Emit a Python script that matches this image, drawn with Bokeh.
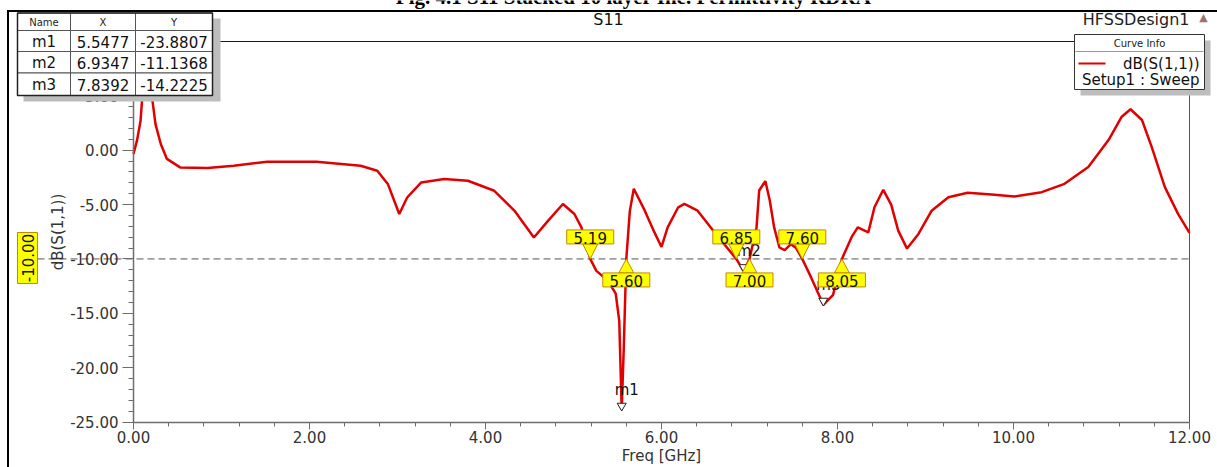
import math
from bokeh.plotting import figure
from bokeh.models import (FixedTicker, PrintfTickFormatter, BoxAnnotation, Label)
from bokeh.embed import file_html
from bokeh.resources import INLINE
from bokeh.core.properties import value

# ---------------- data ----------------
freq = [0.00, 0.04, 0.08, 0.10, 0.13, 0.16, 0.21, 0.25, 0.31, 0.38, 0.53, 0.84,
        1.14, 1.52, 2.08, 2.58, 2.77, 2.89, 3.02, 3.11, 3.27, 3.53, 3.80, 4.10,
        4.33, 4.55, 4.71, 4.88, 5.01, 5.09, 5.19, 5.26, 5.39, 5.48, 5.52, 5.5477,
        5.57, 5.60, 5.64, 5.685, 5.81, 5.92, 6.00, 6.07, 6.19, 6.26, 6.41, 6.56,
        6.68, 6.85, 6.9347, 7.00, 7.08, 7.11, 7.18, 7.23, 7.28, 7.34, 7.40, 7.47,
        7.53, 7.60, 7.70, 7.8392, 7.95, 8.05, 8.16, 8.23, 8.35, 8.42, 8.52, 8.61,
        8.69, 8.79, 8.92, 9.07, 9.26, 9.48, 9.75, 10.01, 10.32, 10.58, 10.85,
        11.08, 11.23, 11.33, 11.46, 11.57, 11.72, 11.87, 12.00]
s11_db = [-0.35, 0.9, 2.7, 4.9, 7.5, 7.8, 4.9, 2.4, 0.57, -0.8, -1.58, -1.64,
          -1.43, -1.06, -1.06, -1.43, -1.89, -3.1, -5.87, -4.35, -2.96, -2.65, -2.81, -3.73,
          -5.57, -8.03, -6.5, -4.95, -5.87, -7.1, -10.0, -11.1, -12.0, -13.2, -15.7, -23.88,
          -18.5, -10.0, -5.6, -3.55, -5.56, -7.56, -8.9, -7.1, -5.25, -4.94, -5.56, -7.1,
          -8.33, -10.0, -11.14, -10.0, -7.1, -3.7, -2.84, -4.6, -7.1, -8.95, -9.2, -8.64,
          -9.0, -10.0, -11.7, -14.22, -13.3, -10.0, -8.0, -7.1, -7.56, -5.25, -3.64, -5.0,
          -7.4, -9.05, -7.7, -5.56, -4.32, -3.92, -4.07, -4.26, -3.86, -3.09, -1.54,
          0.93, 3.08, 3.77, 2.78, 0.31, -3.4, -5.86, -7.6]

marker_names = ["m1", "m2", "m3"]
marker_freq = [5.5477, 6.9347, 7.8392]
marker_db = [-23.8807, -11.1368, -14.2225]

cross_down = [5.19, 6.85, 7.60]   # falling crossings of the -10 dB line
cross_up = [5.60, 7.00, 8.05]     # rising crossings of the -10 dB line
ref_level = -10.0

x_ticks = [0, 2, 4, 6, 8, 10, 12]
y_ticks = [-25, -20, -15, -10, -5, 0, 5, 10]

title_text = "Fig. 4.1 S11 Stacked 10 layer Inc. Permittivity RDRA"
plot_title = "S11"
design_name = "HFSSDesign1"
x_label = "Freq [GHz]"
y_label = "dB(S(1,1))"
legend_title = "Curve Info"
legend_trace = "dB(S(1,1))"
legend_setup = "Setup1 : Sweep"

# ---------------- layout ----------------
W, H = 1217, 467
X0, X1 = 0, 12
Y0, Y1 = -25, 10
PL, PR, PT, PB = 133, 1189, 41, 421.5      # plot box edges in canvas px
PXX = (PR - PL) / (X1 - X0)
PXY = (PB - PT) / (Y1 - Y0)
xr = (X0 - PL / PXX, X1 + (W - PR) / PXX)
yr = (Y0 - (H - PB) / PXY, Y1 + PT / PXY)

FONT = "DejaVu Sans"
RED = "#e00000"
YEL = "#ffff00"
YEL_LINE = "#c08a00"
AXC = "#6e6e6e"

p = figure(width=W, height=H, x_range=xr, y_range=yr,
           output_backend="svg", toolbar_location=None,
           min_border_left=0, min_border_right=0,
           min_border_top=0, min_border_bottom=0,
           background_fill_color="white", border_fill_color="white")
p.grid.visible = False
p.outline_line_color = None

# axes (library axes, pinned to the plot box)
p.xaxis.fixed_location = Y0
p.xaxis.bounds = (X0, X1)
p.yaxis.fixed_location = X0
p.yaxis.bounds = (Y0, Y1)
p.xaxis.ticker = FixedTicker(ticks=x_ticks, minor_ticks=[i * 0.4 for i in range(31)])
p.yaxis.ticker = FixedTicker(ticks=y_ticks, minor_ticks=list(range(Y0, Y1 + 1)))
p.xaxis.formatter = PrintfTickFormatter(format="%.2f")
p.yaxis.formatter = PrintfTickFormatter(format="%.2f")
for ax in (p.xaxis, p.yaxis):
    ax.axis_line_color = AXC
    ax.axis_line_width = 1.5
    ax.major_tick_line_color = AXC
    ax.minor_tick_line_color = AXC
    ax.major_tick_in = 0
    ax.minor_tick_in = 0
    ax.major_label_text_font = FONT
    ax.major_label_text_font_size = "15px"
    ax.major_label_text_color = "#333333"
    ax.axis_label_text_font = FONT
    ax.axis_label_text_font_size = "15px"
    ax.axis_label_text_font_style = "normal"
    ax.axis_label_text_color = "#333333"
p.xaxis.major_tick_out = 7
p.xaxis.minor_tick_out = 4
p.xaxis.major_label_standoff = 2
p.xaxis.axis_label_standoff = 0
p.yaxis.major_tick_out = 11
p.yaxis.minor_tick_out = 5
p.yaxis.major_label_standoff = 4
p.yaxis.axis_label_standoff = 0
p.xaxis.axis_label = x_label
p.yaxis.axis_label = y_label


def sx(px):
    return px


def sy(py):
    return H - py


def box(x0, y0, x1, y1, fill=None, line=None, lw=1):
    p.add_layout(BoxAnnotation(left=sx(x0), right=sx(x1), top=sy(y0), bottom=sy(y1),
                               left_units="screen", right_units="screen",
                               top_units="screen", bottom_units="screen",
                               fill_color=fill if fill else "white",
                               fill_alpha=1 if fill else 0,
                               line_color=line if line else "black",
                               line_alpha=1 if line else 0, line_width=lw))


def label(x, y, text, size=15, align="center", baseline="middle", color="#111111",
          font=FONT, angle=0, style="normal"):
    p.add_layout(Label(x=sx(x), y=sy(y), x_units="screen", y_units="screen", text=text,
                       text_font=font, text_font_size=f"{size}px", text_align=align,
                       text_baseline=baseline, text_color=color, angle=angle,
                       text_font_style=style))


# document caption (only its lower edge shows at the top, as in the source image)
label(633, -4, title_text, size=21, baseline="alphabetic", font="Liberation Serif",
      style="bold", color="#000000")

# plot box border (top and right)
box(PL, PT - 0.5, PR + 0.5, PT + 0.5, fill="#1a1a1a")
box(PR - 0.5, PT, PR + 0.5, PB, fill="#555555")

# -10 dB reference line (extends left past the axis, as in HFSS)
p.segment(x0=[X0 - (PL - 37) / PXX], y0=[ref_level], x1=[X1], y1=[ref_level],
          line_color="#555555", line_dash="7 4", line_width=1)

# curve
p.line(freq, s11_db, line_color=RED, line_width=2.5)

# markers m1..m3
p.scatter(marker_freq, [v + 4 / PXY for v in marker_db], marker="inverted_triangle",
          size=9, fill_color="white", line_color="#222222", line_width=1)
p.text(marker_freq, marker_db, text=marker_names, x_offset=-7, y_offset=-11,
       text_align="left", text_baseline="bottom", text_font=value(FONT),
       text_font_size="15px", text_color="#111111")

# crossing labels (yellow)
up_c = ref_level + 22 / PXY
lo_c = ref_level - 21 / PXY
half_h = 7 / PXY
tri_w = 7.5 / PXX
xs, ys = [], []
for c in cross_down:
    xs.append([c - tri_w, c + tri_w, c])
    ys.append([up_c - half_h, up_c - half_h, ref_level])
for c in cross_up:
    xs.append([c - tri_w, c + tri_w, c])
    ys.append([lo_c + half_h, lo_c + half_h, ref_level])
p.patches(xs, ys, fill_color=YEL, line_color=YEL_LINE, line_width=1)
allc = cross_down + cross_up
ally = [up_c] * len(cross_down) + [lo_c] * len(cross_up)
p.rect(allc, ally, width=47, height=14, width_units="screen", height_units="screen",
       fill_color=YEL, line_color=YEL_LINE, line_width=1)
p.text(allc, ally, text=[f"{c:.2f}" for c in allc], text_align="center",
       text_baseline="middle", text_font=value(FONT), text_font_size="15px",
       text_color="#111111", y_offset=1)

# -10.00 label on the left
box(17, 232, 37, 283, fill=YEL, line=YEL_LINE)
label(27.5, 257.5, f"{ref_level:.2f}", size=15, angle=math.pi / 2)

# marker table
box(23, 18, 220, 101, fill="#bdbdbd")
col_edges = [17, 70, 135, 212]
row_edges = [12.5, 30, 51, 72.5, 95]
for i in range(4):
    for j in range(3):
        box(col_edges[j], row_edges[i], col_edges[j + 1], row_edges[i + 1],
            fill="white", line="#555555")
box(17, 12.5, 212, 95, line="#222222", lw=1.5)
headers = ["Name", "X", "Y"]
for j, h in enumerate(headers):
    label((col_edges[j] + col_edges[j + 1]) / 2, (row_edges[0] + row_edges[1]) / 2 + 0.5,
          h, size=10, color="#222222")
for i in range(3):
    cy = (row_edges[i + 1] + row_edges[i + 2]) / 2 + 0.5
    cells = [marker_names[i], f"{marker_freq[i]:.4f}", f"{marker_db[i]:.4f}"]
    for j, t in enumerate(cells):
        label((col_edges[j] + col_edges[j + 1]) / 2, cy, t, size=15)

# legend (Curve Info)
box(1080, 40, 1210, 95, fill="#bdbdbd")
box(1074, 34, 1204, 89, fill="white", line="#333333")
box(1075, 50.5, 1203, 51.5, fill="#9a9a9a")
label(1139, 43, legend_title, size=10, color="#222222")
box(1078, 62, 1105, 64, fill=RED)
label(1199, 63.5, legend_trace, size=15, align="right")
label(1199, 79, legend_setup, size=15, align="right")

# plot titles
label(608, 19, plot_title, size=16)
label(1189, 19, design_name, size=16, align="right", color="#222222")
label(1203, 17, "\u25b2", size=11, color="#a07070")

# outer frame lines
box(6.5, 9.5, 8.5, H, fill="#000000")
box(6.5, 9.5, W, 11.5, fill="#000000")

open("out.html", "w").write(file_html(p, INLINE))
